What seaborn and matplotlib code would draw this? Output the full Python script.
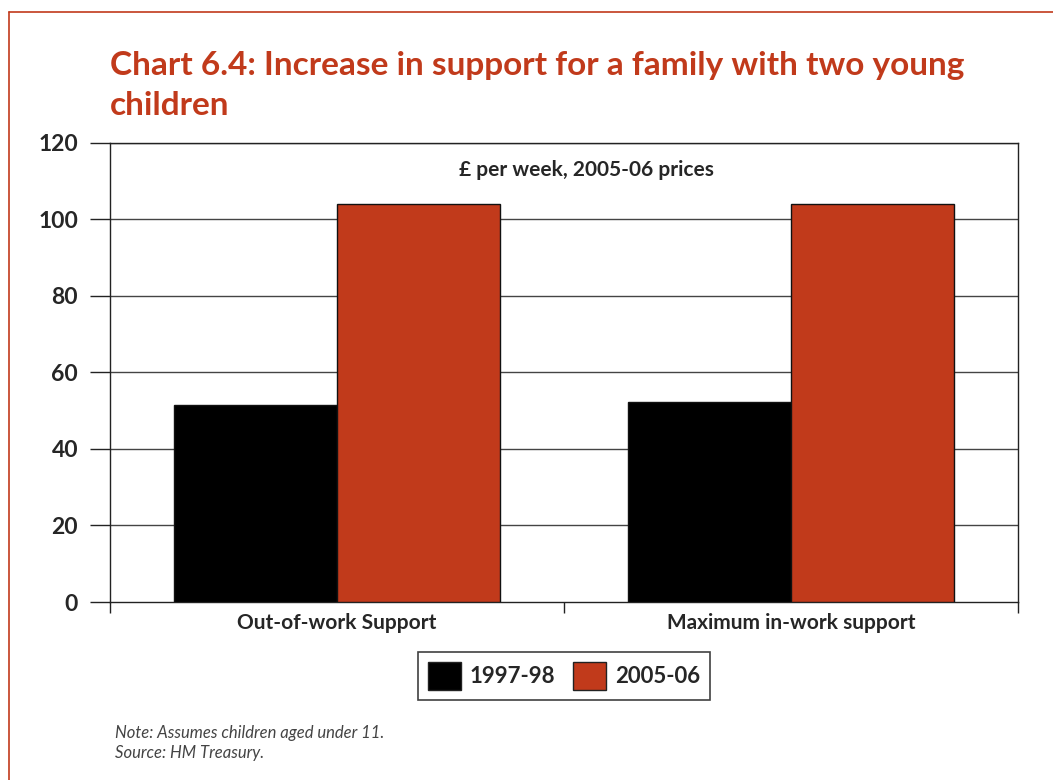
import matplotlib
matplotlib.use("Agg")
import matplotlib.pyplot as plt
import matplotlib.patches as mpatches
import seaborn as sns
import pandas as pd

categories = ["Out-of-work Support", "Maximum in-work support"]
years = ["1997-98", "2005-06"]
values_1997 = [51.5, 52.4]
values_2005 = [104.0, 104.0]

RED = "#C13A1B"
FONT = "Lato"
HEAVY = "bold"

df = pd.DataFrame({
    "category": categories * 2,
    "year": [years[0]] * 2 + [years[1]] * 2,
    "value": values_1997 + values_2005,
})

sns.set_theme(style="white")
plt.rcParams["font.family"] = [FONT, "DejaVu Sans"]

fig = plt.figure(figsize=(10.53, 7.8), dpi=100)
ax = fig.add_axes([0.1045, 0.2282, 0.8623, 0.5885])

sns.barplot(data=df, x="category", y="value", hue="year",
            palette=["#000000", RED], width=0.72, saturation=1,
            edgecolor="#111111", linewidth=1.0, ax=ax, legend=False,
            zorder=3)

ax.set_ylim(0, 120)
ax.set_xlim(-0.5, 1.5)
ax.set_yticks(range(0, 121, 20))
ax.set_yticklabels([str(v) for v in range(0, 121, 20)],
                   fontsize=16.5, fontweight=HEAVY, family=FONT)
for y in range(20, 121, 20):
    ax.axhline(y, color="#444444", linewidth=1.0, zorder=1)
ax.tick_params(axis="y", length=14.5, width=1, color="#222222", pad=8.5, left=True)

# category boundaries as major ticks, labels on minor ticks
ax.set_xticks([-0.5, 0.5, 1.5])
ax.set_xticklabels(["", "", ""])
ax.set_xticks([0, 1], minor=True)
ax.set_xticklabels(categories, minor=True, fontsize=15, fontweight=HEAVY, family=FONT)
ax.tick_params(axis="x", which="major", length=8, width=1, color="#222222", bottom=True)
ax.tick_params(axis="x", which="minor", length=0, pad=8)
ax.set_xlabel("")
ax.set_ylabel("")

for s in ax.spines.values():
    s.set_visible(True)
    s.set_color("#222222")
    s.set_linewidth(1.0)

ax.text(0.5 + 0.05, 113, "£ per week, 2005-06 prices", ha="center", va="center",
        fontsize=15, fontweight=HEAVY, family=FONT)

handles = [mpatches.Patch(facecolor="#000000", edgecolor="#222222", label=years[0]),
           mpatches.Patch(facecolor=RED, edgecolor="#222222", label=years[1])]
leg = fig.legend(handles=handles, loc="center", bbox_to_anchor=(564 / 1053, 1 - 676 / 780),
                 ncol=2, frameon=True, fancybox=False, edgecolor="#111111",
                 prop={"family": FONT, "weight": HEAVY, "size": 16},
                 handlelength=1.5, handleheight=1.5, handletextpad=0.4,
                 columnspacing=0.8, borderpad=0.45)
leg.get_frame().set_linewidth(1.2)

fig.text(110 / 1053, 1 - 75 / 780,
         "Chart 6.4: Increase in support for a family with two young",
         ha="left", va="baseline", fontsize=24, fontweight=HEAVY, color=RED, family=FONT)
fig.text(110 / 1053, 1 - 115 / 780, "children",
         ha="left", va="baseline", fontsize=24, fontweight=HEAVY, color=RED, family=FONT)

fig.text(115 / 1053, 1 - 733 / 780, "Note: Assumes children aged under 11.",
         ha="left", va="center", fontsize=12, style="italic", color="#444444", family=FONT)
fig.text(115 / 1053, 1 - 753 / 780, "Source: HM Treasury.",
         ha="left", va="center", fontsize=12, style="italic", color="#444444", family=FONT)

# page frame
fig.add_artist(plt.Line2D([9 / 1053, 9 / 1053], [0, 1 - 12 / 780],
                          transform=fig.transFigure, color=RED, linewidth=1.2))
fig.add_artist(plt.Line2D([9 / 1053, 1], [1 - 12 / 780, 1 - 12 / 780],
                          transform=fig.transFigure, color=RED, linewidth=1.2))

fig.savefig("out.png", dpi=100)
